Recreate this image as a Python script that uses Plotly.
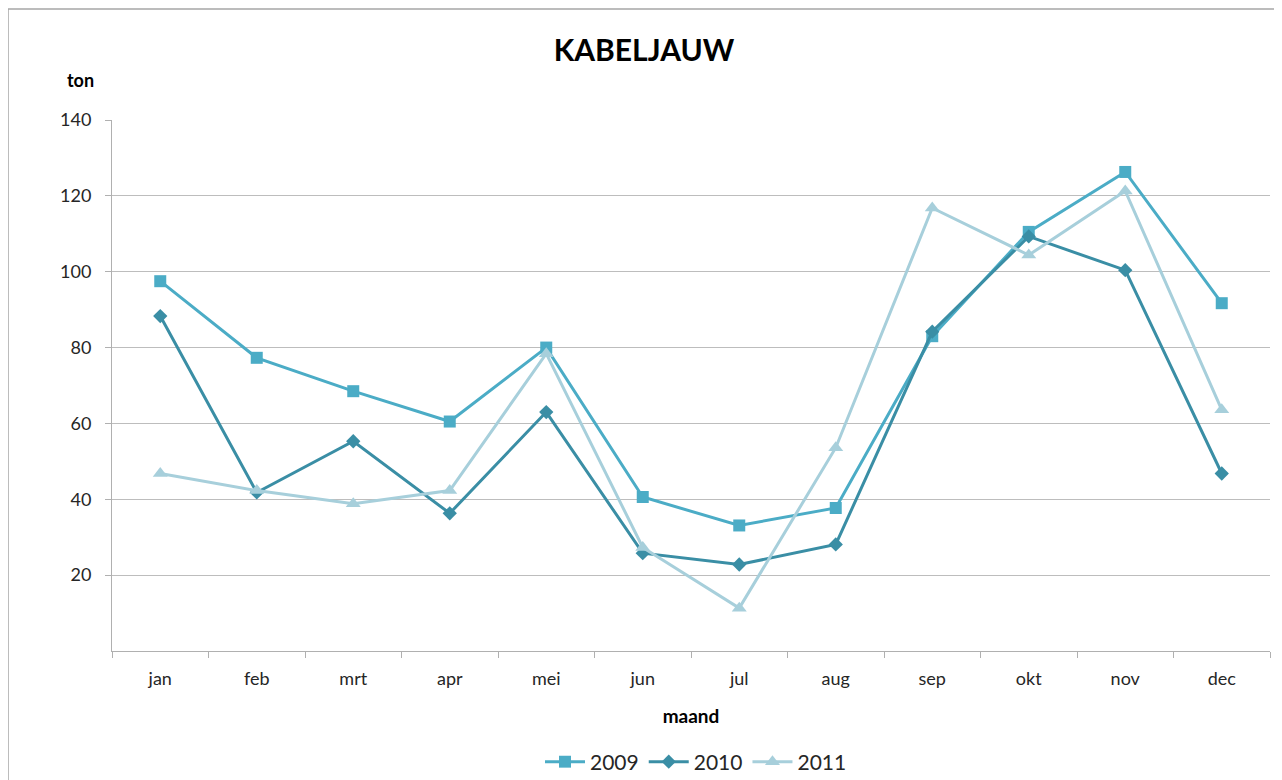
import plotly.graph_objects as go

months = ["jan", "feb", "mrt", "apr", "mei", "jun", "jul", "aug", "sep", "okt", "nov", "dec"]
ton_2009 = [97.5, 77.3, 68.5, 60.5, 80.0, 40.6, 33.1, 37.7, 83.0, 110.5, 126.3, 91.7]
ton_2010 = [88.3, 41.8, 55.3, 36.3, 63.0, 25.8, 22.8, 28.1, 84.2, 109.3, 100.4, 46.8]
ton_2011 = [46.8, 42.3, 38.8, 42.3, 78.4, 27.3, 11.3, 53.6, 116.8, 104.4, 121.3, 63.6]

FONT = "Lato, 'Open Sans', sans-serif"
# the page body has an 8px margin, so the figure is 8px smaller than the window
W, H = 1274, 772
L, T, PW, PH = 104, 112, 1158, 531

fig = go.Figure()
fig.add_scatter(x=months, y=ton_2009, name="2009", mode="lines+markers",
                line=dict(color="#4BACC6", width=3),
                marker=dict(symbol="square", size=12, color="#4BACC6"))
fig.add_scatter(x=months, y=ton_2010, name="2010", mode="lines+markers",
                line=dict(color="#3A8EA5", width=3),
                marker=dict(symbol="diamond", size=11, color="#3A8EA5"))
fig.add_scatter(x=months, y=ton_2011, name="2011", mode="lines+markers",
                line=dict(color="#A7CFDB", width=3),
                marker=dict(symbol="triangle-up", size=13, color="#A7CFDB"))

fig.update_layout(
    width=W, height=H,
    margin=dict(l=L, r=W - L - PW, t=T, b=H - T - PH, autoexpand=False),
    paper_bgcolor="white", plot_bgcolor="white",
    font=dict(family=FONT, size=17, color="#262626"),
    title=dict(text="<b>KABELJAUW</b>", x=636 / W, xanchor="center", xref="container",
               y=1 - 42 / H, yref="container", yanchor="middle",
               font=dict(size=30, color="black")),
    showlegend=True,
    legend=dict(orientation="h", x=688 / W, xanchor="center", xref="container",
                y=18 / H, yref="container", yanchor="middle",
                font=dict(size=21, color="#262626"), itemwidth=40, tracegroupgap=0),
    xaxis=dict(range=[-0.5, len(months) - 0.5],
               showgrid=False, showline=True, linecolor="#B0B0B0", linewidth=1,
               ticks="outside", tickson="boundaries", ticklen=6, tickcolor="#B0B0B0",
               tickfont=dict(size=18, color="#262626"), ticklabelstandoff=11,
               automargin=False,
               title=dict(text="<b>maand</b>", font=dict(size=19, color="black"), standoff=22)),
    yaxis=dict(range=[0, 140], tickvals=[20, 40, 60, 80, 100, 120, 140],
               showgrid=True, gridcolor="#BDBDBD", gridwidth=1,
               showline=True, linecolor="#B0B0B0", linewidth=1,
               ticks="outside", ticklen=6, tickcolor="#B0B0B0", ticklabelstandoff=10,
               tickfont=dict(size=18, color="#262626"), zeroline=False, automargin=False),
    annotations=[dict(text="<b>ton</b>", xref="paper", yref="paper",
                      x=(88 - L) / PW, y=(T + PH - 72) / PH, xanchor="right", yanchor="middle",
                      showarrow=False, font=dict(size=18, color="black"))],
    shapes=[dict(type="rect", xref="paper", yref="paper",
                 x0=(0 - L) / PW, x1=(1267 - L) / PW,
                 y0=-0.3, y1=(T + PH - 1) / PH,
                 line=dict(color="#A6A6A6", width=1.5), fillcolor="rgba(0,0,0,0)")],
)

fig.write_html("out.html")
